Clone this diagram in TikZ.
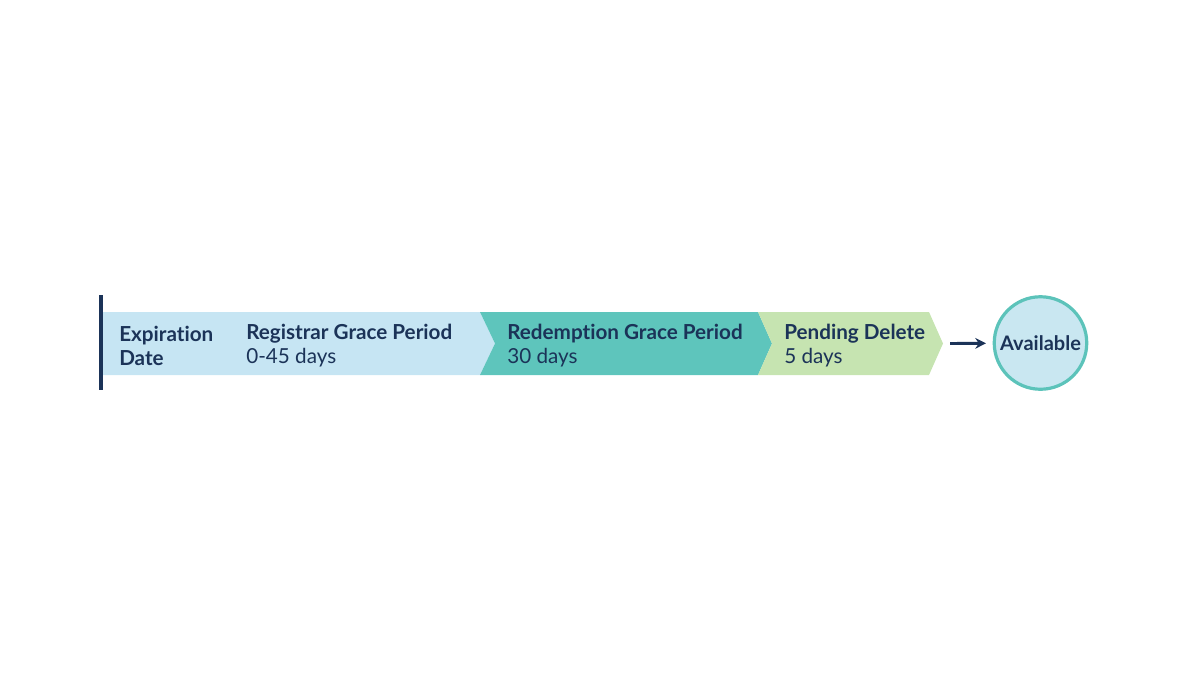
\documentclass[tikz,border=0pt]{standalone}
\usepackage{fontspec}
\setmainfont{Lato}[Ligatures=NoCommon]
\usetikzlibrary{arrows.meta}

\definecolor{navy}{HTML}{1B3358}
\definecolor{bandblue}{HTML}{C6E5F3}
\definecolor{bandteal}{HTML}{5EC5BC}
\definecolor{bandgreen}{HTML}{C6E4B1}
\definecolor{ringteal}{HTML}{5CC3BA}
\definecolor{discblue}{HTML}{C9E7F1}

\begin{document}
\begin{tikzpicture}[x=0.75pt, y=-0.75pt, >={Stealth[length=8pt, width=8pt]},
    phase/.style={anchor=west, align=left, text=navy, inner sep=0pt,
      font=\fontsize{15.5pt}{18pt}\selectfont}]
		
		\useasboundingbox (0,0) rectangle (1200,686);
		
		% Bandas de las fases
		\fill [bandblue] (101,312) -- (480,312) -- (495,343.5) -- (480,375) -- (101,375) -- cycle;
		\fill [bandteal] (480,312) -- (758,312) -- (772,343.5) -- (758,375) -- (480,375) -- (495,343.5) -- cycle;
		\fill [bandgreen] (758,312) -- (929,312) -- (943,343.5) -- (929,375) -- (758,375) -- (772,343.5) -- cycle;
		\coordinate (tip) at (950,343.5);
		
		% Marca de la fecha de expiracion
		\coordinate (mark-top) at (101,295);
		\coordinate (mark-bot) at (101,390);
		\draw [navy, line width=2.4pt] (mark-top) -- (mark-bot);
		
		% Textos de las fases
		\node [phase] (expiry) at (119,345.5) {\textbf{Expiration}\\\textbf{Date}};
		\foreach \x/\t/\d [count=\i] in {246/Registrar Grace Period/0-45 days,
		                                507/Redemption Grace Period/30 days,
		                                784/Pending Delete/5 days}
		\node [phase] (phase-\i) at (\x,345.5) {\textbf{\t}\\\d};
		
		% Nodo final
		\node [circle, draw=ringteal, line width=2.4pt, fill=discblue, minimum size=92.5*0.75pt,
		  text=navy, font=\fontsize{15pt}{18pt}\selectfont\bfseries] (available) at (1040.5,343) {Available};
		
		% Flecha hacia el nodo final
		\draw [->, navy, line width=2.2pt, shorten >=5pt] (tip) -- (available);
		
	\end{tikzpicture}
\end{document}
